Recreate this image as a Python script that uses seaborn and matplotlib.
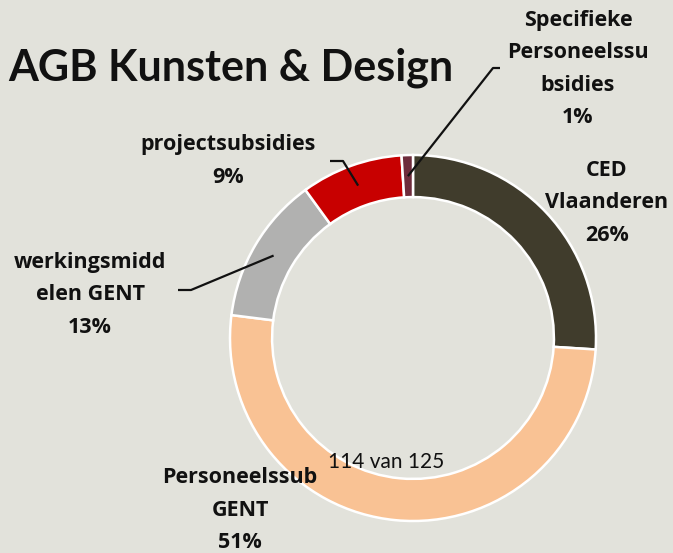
import numpy as np
import seaborn as sns
import matplotlib.pyplot as plt

# data
categories = ["CED\nVlaanderen", "Personeelssub\nGENT", "werkingsmidd\nelen GENT",
              "projectsubsidies", "Specifieke\nPersoneelssu\nbsidies"]
shares = [26, 51, 13, 9, 1]
colors = ["#403c2c", "#f9c294", "#b1b1b0", "#c80000", "#6e2c3c"]
title = "AGB Kunsten & Design"
note = "114 van 125"

sns.set_theme(style="white")
plt.rcParams["font.family"] = ["Open Sans", "DejaVu Sans"]

W, H = 673, 553
bg = "#e2e2db"
fig = plt.figure(figsize=(W / 100, H / 100), dpi=100, facecolor=bg)

# donut centre / radius in pixels
cx, cy, R = 413, 338, 183
ax = fig.add_axes([(cx - R) / W, (H - cy - R) / H, 2 * R / W, 2 * R / H])
ax.set_facecolor(bg)

ring = 0.23
wedges, _ = ax.pie(shares, colors=colors, startangle=90, counterclock=False, radius=1,
                   wedgeprops=dict(width=ring, edgecolor="white", linewidth=1.8))
# pie() pads the limits, take them back to the unit circle
ax.set_xlim(-1, 1)
ax.set_ylim(-1, 1)
ax.axis("off")


def px(x, y):
    # pixel -> data coords of the donut axes
    return (x - cx) / R, (cy - y) / R


# label positions (pixels, text centre)
label_pos = [(607, 203), (240, 510), (90, 295), (228, 161), (578, 69)]
pcts = [f"{s}%" for s in shares]
for name, p, (x, y) in zip(categories, pcts, label_pos):
    tx, ty = px(x, y)
    ax.text(tx, ty, f"{name}\n{p}", ha="center", va="center", fontsize=15.5,
            fontweight="bold", linespacing=1.7, color="#111111", clip_on=False)

# leader lines: (label end, elbow) in pixels, for wedges 2, 3, 4
leaders = {2: ((178, 290), (191, 290)), 3: ((330, 161), (343, 161)), 4: ((500, 68), (493, 68))}
for i, (p0, p1) in leaders.items():
    w = wedges[i]
    mid = np.deg2rad((w.theta1 + w.theta2) / 2)
    r = 1 - ring / 2
    ax_, ay_ = r * np.cos(mid), r * np.sin(mid)
    x0, y0 = px(*p0)
    x1, y1 = px(*p1)
    ax.plot([x0, x1, ax_], [y0, y1, ay_], color="#111111", lw=1.6, clip_on=False,
            solid_capstyle="butt")

fig.text(8 / W, 1 - 68 / H, title, ha="left", va="center", fontsize=31,
         fontweight="bold", color="#111111", family=["Lato", "DejaVu Sans"])
fig.text(386 / W, 1 - 462 / H, note, ha="center", va="center", fontsize=15,
         color="#111111", family=["Lato", "DejaVu Sans"])

fig.savefig("out.png", dpi=100, facecolor=bg)
